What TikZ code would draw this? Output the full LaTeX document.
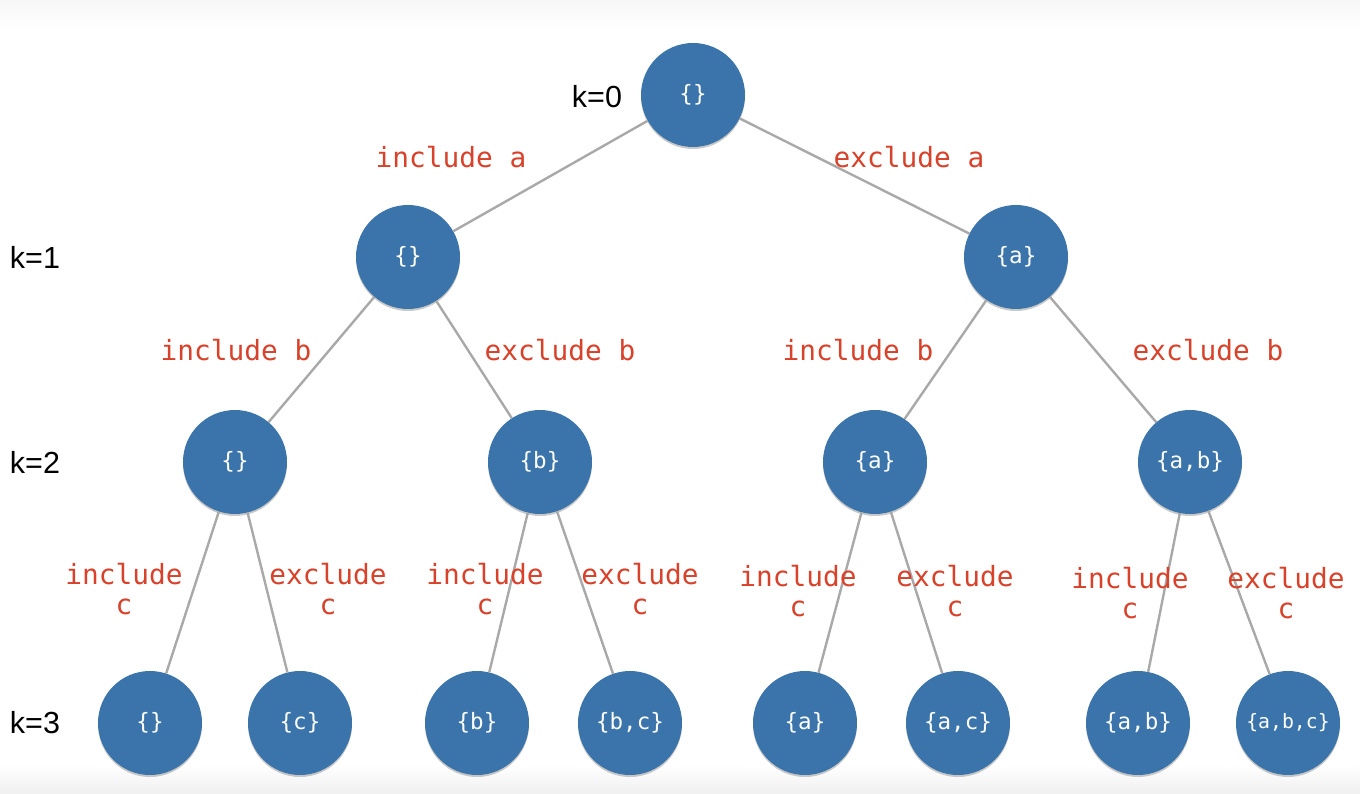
\documentclass[tikz,border=0pt]{standalone}
\usepackage{fontspec}
\setmainfont{Liberation Sans}
\newfontfamily\labmono{DejaVu Sans Mono}
\usetikzlibrary{shadows}
\definecolor{nodeblue}{HTML}{3B74AA}
\definecolor{labred}{HTML}{D8412A}
\definecolor{edgegray}{HTML}{A9A9A9}
\tikzset{
  setnode/.style={circle, fill=nodeblue, minimum size=104pt, inner sep=0pt,
    text=white, font=\labmono\fontsize{22.5}{26}\selectfont,
    drop shadow={shadow xshift=0pt, shadow yshift=-2pt, opacity=0.35, fill=black!60}},
  smallset/.style={font=\labmono\fontsize{19.8}{23}\selectfont},
  edge/.style={draw=edgegray, line width=2.4pt},
  choice/.style={text=labred, font=\labmono\fontsize{27.8}{30}\selectfont, align=center, inner sep=0pt},
  klabel/.style={font=\fontsize{30.5}{33}\selectfont, inner sep=0pt}
}
\begin{document}
\begin{tikzpicture}[x=1pt,y=-1pt]
\useasboundingbox (0,0) rectangle (1360,794);
\fill[white] (0,0) rectangle (1360,794);
\shade[top color=black!3, bottom color=white] (0,0) rectangle (1360,30);
\shade[top color=white, bottom color=black!6] (0,765) rectangle (1360,794);

% nodes
\node[setnode] (r) at (693,95) {\{\}};
\node[setnode] (l) at (408,257) {\{\}};
\node[setnode] (rr) at (1016,257) {\{a\}};
\node[setnode] (ll) at (235,462) {\{\}};
\node[setnode] (lr) at (540,462) {\{b\}};
\node[setnode] (rl) at (875,462) {\{a\}};
\node[setnode] (rrr) at (1190,462) {\{a,b\}};
\node[setnode] (n1) at (150,723) {\{\}};
\node[setnode] (n2) at (300,723) {\{c\}};
\node[setnode] (n3) at (477,723) {\{b\}};
\node[setnode] (n4) at (630,723) {\{b,c\}};
\node[setnode] (n5) at (805,723) {\{a\}};
\node[setnode] (n6) at (958,723) {\{a,c\}};
\node[setnode] (n7) at (1138,723) {\{a,b\}};
\node[setnode, smallset] (n8) at (1288,723) {\{a,b,c\}};

% edges
\draw[edge] (r) -- (l);
\draw[edge] (r) -- (rr);
\draw[edge] (l) -- (ll);
\draw[edge] (l) -- (lr);
\draw[edge] (rr) -- (rl);
\draw[edge] (rr) -- (rrr);
\draw[edge] (ll) -- (n1);
\draw[edge] (ll) -- (n2);
\draw[edge] (lr) -- (n3);
\draw[edge] (lr) -- (n4);
\draw[edge] (rl) -- (n5);
\draw[edge] (rl) -- (n6);
\draw[edge] (rrr) -- (n7);
\draw[edge] (rrr) -- (n8);

% choice labels
\node[choice] (ia) at (451,157) {include a};
\node[choice] (ea) at (909,157) {exclude a};
\node[choice] (ib1) at (236,350) {include b};
\node[choice] (eb1) at (560,350) {exclude b};
\node[choice] (ib2) at (858,350) {include b};
\node[choice] (eb2) at (1208,350) {exclude b};
\node[choice] (ic1) at (124,589) {include\\c};
\node[choice] (ec1) at (328,589) {exclude\\c};
\node[choice] (ic2) at (485,589) {include\\c};
\node[choice] (ec2) at (640,589) {exclude\\c};
\node[choice] (ic3) at (798,591) {include\\c};
\node[choice] (ec3) at (955,591) {exclude\\c};
\node[choice] (ic4) at (1130,593) {include\\c};
\node[choice] (ec4) at (1286,593) {exclude\\c};

% level labels
\node[klabel] (k0) at (597,97) {k=0};
\node[klabel] (k1) at (35,257) {k=1};
\node[klabel] (k2) at (35,462) {k=2};
\node[klabel] (k3) at (35,723) {k=3};
\end{tikzpicture}
\end{document}
